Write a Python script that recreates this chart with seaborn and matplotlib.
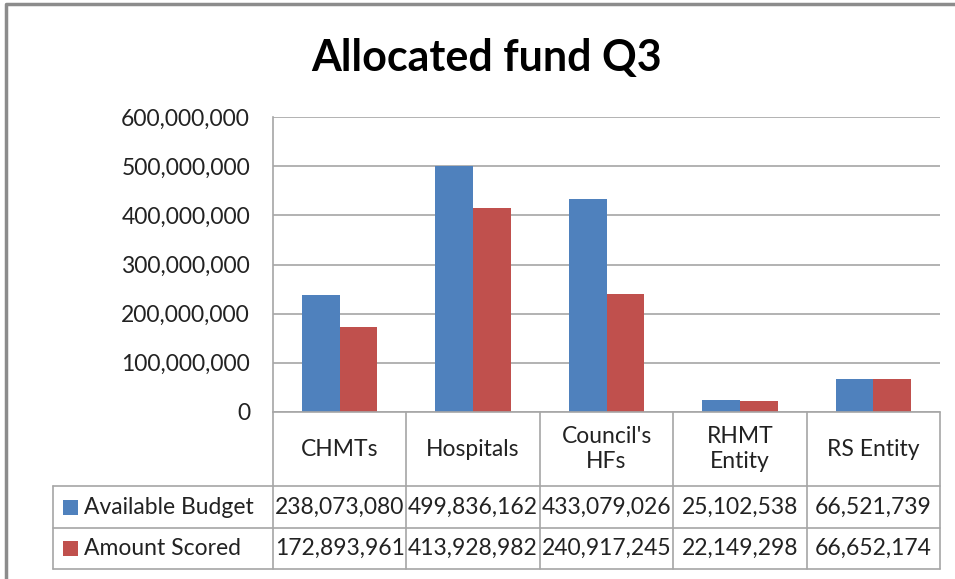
import numpy as np
import pandas as pd
import matplotlib
matplotlib.use("Agg")
import matplotlib.pyplot as plt
import seaborn as sns
from matplotlib.ticker import FuncFormatter

categories = ["CHMTs", "Hospitals", "Council's\nHFs", "RHMT\nEntity", "RS Entity"]
series_names = ["Available Budget", "Amount Scored"]
available_budget = [238073080, 499836162, 433079026, 25102538, 66521739]
amount_scored = [172893961, 413928982, 240917245, 22149298, 66652174]
yticks = [0, 100000000, 200000000, 300000000, 400000000, 500000000, 600000000]

colors = ["#4F81BD", "#C0504D"]
grid_color = "#A6A6A6"
font = ["Lato", "DejaVu Sans"]

df = pd.DataFrame({
    "category": categories * 2,
    "series": [series_names[0]] * 5 + [series_names[1]] * 5,
    "value": available_budget + amount_scored,
})

sns.set_style("white")
plt.rcParams["font.family"] = font

W, H = 955, 579
fig = plt.figure(figsize=(W / 100, H / 100), dpi=100)

# plot area in pixels
left, right, top, bottom = 273, 940, 117, 412
ax = fig.add_axes([left / W, 1 - bottom / H, (right - left) / W, (bottom - top) / H])
sns.barplot(data=df, x="category", y="value", hue="series", palette=colors,
            width=0.565, saturation=1, ax=ax, legend=False, zorder=3, linewidth=0)
ax.set_ylim(0, 600000000)
ax.set_xlim(-0.5, 4.5)
ax.set_yticks(yticks)
ax.yaxis.set_major_formatter(FuncFormatter(lambda v, p: f"{int(v):,}"))
ax.tick_params(axis="y", labelsize=16.5, length=0, pad=16.5, labelcolor="#222222")
ax.set_xticks([])
ax.set_xlabel("")
ax.set_ylabel("")
ax.yaxis.grid(True, color=grid_color, lw=1.2)
ax.set_axisbelow(True)
for s in ["top", "right", "bottom"]:
    ax.spines[s].set_visible(False)
ax.spines["left"].set_color(grid_color)
ax.spines["left"].set_linewidth(1.2)

# overlay in pixel coordinates for title, data table and frame
ov = fig.add_axes([0, 0, 1, 1], facecolor="none")
ov.set_xlim(0, W)
ov.set_ylim(H, 0)
ov.axis("off")

ov.text(487, 58, "Allocated fund Q3", ha="center", va="center",
        fontsize=31, fontweight="bold", color="black")

# outer chart frame
ov.plot([6, 6, W + 5], [H + 5, 4, 4], color="#8C8C8C", lw=2.5)

n = len(categories)
col_w = (right - left) / n
col_edges = [left + i * col_w for i in range(n + 1)]
row_edges = [412, 486, 528, 569]
legend_left = 53
lc = grid_color
fs = 16.5

# horizontal lines
ov.plot([left, right], [row_edges[0]] * 2, color=lc, lw=1.2)
for y in row_edges[1:]:
    ov.plot([legend_left, right], [y, y], color=lc, lw=1.2)
# vertical lines
for x in col_edges:
    ov.plot([x, x], [row_edges[0], row_edges[-1]], color=lc, lw=1.2)
ov.plot([legend_left, legend_left], [row_edges[1], row_edges[-1]], color=lc, lw=1.2)

for i, cat in enumerate(categories):
    cx = (col_edges[i] + col_edges[i + 1]) / 2
    ov.text(cx, (row_edges[0] + row_edges[1]) / 2, cat, ha="center", va="center",
            fontsize=fs, linespacing=1.2, color="#222222")

for r, (name, vals) in enumerate(zip(series_names, [available_budget, amount_scored])):
    cy = (row_edges[r + 1] + row_edges[r + 2]) / 2
    ov.add_patch(plt.Rectangle((63, cy - 7.5), 15, 15, facecolor=colors[r], edgecolor="none"))
    ov.text(84, cy, name, ha="left", va="center", fontsize=fs, color="#222222")
    for i, v in enumerate(vals):
        cx = (col_edges[i] + col_edges[i + 1]) / 2
        ov.text(cx, cy, f"{v:,}", ha="center", va="center", fontsize=fs, color="#222222")

fig.savefig("out.png", dpi=100)
